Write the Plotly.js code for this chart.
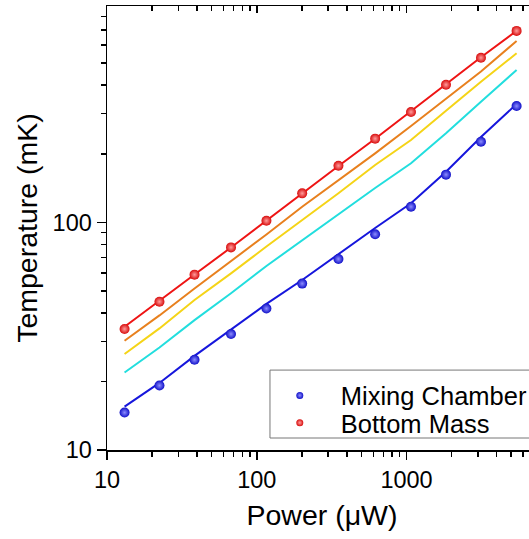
<!DOCTYPE html>
<html>
<head>
<meta charset="utf-8">
<script src="https://cdn.plot.ly/plotly-3.0.1.min.js"></script>
<style>html,body{margin:0;padding:0;overflow:hidden;background:#fff;}</style>
</head>
<body>
<div id="chart" style="width:545px;height:539px;"></div>
<script>
// Power (µW)
const power = [13.1, 22.4, 38.4, 67.3, 116, 201, 351, 617, 1071, 1834, 3140, 5430];
// measured points (mK)
const mixingChamber = [14.6, 19.2, 24.9, 32.3, 41.8, 53.8, 69.0, 88.6, 117.1, 161.9, 226, 324];
const bottomMass = [34.0, 44.8, 58.9, 77.6, 101.6, 134.0, 177.2, 233, 305, 402, 528, 693];
// model curves (mK)
const redCurve = [34.8, 45.1, 59.0, 77.5, 101.8, 134.5, 176.7, 232.9, 308.2, 403.7, 530.4, 694.1];
const orangeCurve = [30.2, 39.0, 51.2, 67.3, 88.4, 117.1, 152.6, 200.9, 264.8, 350.5, 459.5, 625.5];
const yellowCurve = [26.4, 34.2, 45.6, 59.7, 78.3, 102.3, 134.1, 178.5, 229.8, 309.1, 414.5, 552.3];
const cyanCurve = [21.9, 28.2, 37.2, 48.8, 64.3, 83.2, 108.8, 141.5, 181.6, 246.0, 338.5, 466.5];
const blueCurve = [15.5, 19.7, 25.9, 33.7, 43.8, 55.8, 72.6, 94.4, 121.2, 166.8, 236.9, 330.7];
// ticks
const xMajor = [10, 100, 1000];
const xMajorLabels = ['10', '100', '1000'];
const xMinor = [20,30,40,50,60,70,80,90,200,300,400,500,600,700,800,900,2000,3000,4000,5000,6000,7000];
const yMajor = [10, 100];
const yMajorLabels = ['10', '100'];
const yMinor = [20,30,40,50,60,70,80,90,200,300,400,500,600,700,800];
const seriesNames = ['Mixing Chamber', 'Bottom Mass'];

const FONT = 'Liberation Sans, Arial, sans-serif';

function curve(y, color) {
  return {x: power, y: y, mode: 'lines', type: 'scatter', showlegend: false,
          line: {color: color, width: 2}, hoverinfo: 'skip'};
}
const blueMarker = {color: '#1010c8', size: 10, gradient: {type: 'radial', color: '#8c8cff'}};
const redMarker = {color: '#d80c0c', size: 10, gradient: {type: 'radial', color: '#ff9c9c'}};
const traces = [
  curve(cyanCurve, '#22dede'),
  curve(yellowCurve, '#f5d417'),
  curve(orangeCurve, '#e8801e'),
  curve(blueCurve, '#1616dc'),
  curve(redCurve, '#ee1414'),
  {x: power, y: mixingChamber, mode: 'markers', type: 'scatter', name: seriesNames[0],
   showlegend: false, marker: blueMarker},
  {x: power, y: bottomMass, mode: 'markers', type: 'scatter', name: seriesNames[1],
   showlegend: false, marker: redMarker},
  // legend entries (no data, smaller legend symbols)
  {x: [null], y: [null], mode: 'markers', type: 'scatter', name: seriesNames[0], legend: 'legend',
   marker: {color: '#1010c8', size: 7, gradient: {type: 'radial', color: '#8c8cff'}}},
  {x: [null], y: [null], mode: 'markers', type: 'scatter', name: seriesNames[1], legend: 'legend2',
   marker: {color: '#d80c0c', size: 7, gradient: {type: 'radial', color: '#ff9c9c'}}},
  {x: [power[0]], y: [bottomMass[0]], xaxis: 'x2', mode: 'markers', type: 'scatter',
   showlegend: false, marker: {opacity: 0}, hoverinfo: 'skip'}
];

const legendCommon = {
  xanchor: 'left', yanchor: 'middle', bgcolor: 'rgba(0,0,0,0)', borderwidth: 0,
  font: {size: 25.5, family: FONT, color: '#000'}, itemwidth: 72, itemsizing: 'trace'
};

const layout = {
  width: 545, height: 539,
  margin: {l: 107, r: 8, t: 6, b: 89},
  paper_bgcolor: '#fff', plot_bgcolor: '#fff',
  font: {family: FONT, color: '#000'},
  showlegend: true,
  xaxis: {
    type: 'log', range: [1, 3.871], showgrid: false, zeroline: false,
    showline: true, linecolor: '#000', linewidth: 1.5,
    ticks: 'outside', ticklen: 8, tickwidth: 1.5, tickcolor: '#000',
    tickmode: 'array', tickvals: xMajor, ticktext: xMajorLabels,
    tickfont: {size: 23.5, family: FONT},
    minor: {tickmode: 'array', tickvals: xMinor, ticks: 'outside', ticklen: 5, tickwidth: 1.5, tickcolor: '#000'},
    title: {text: 'Power (μW)', font: {size: 28.5, family: FONT}, standoff: 13}
  },
  xaxis2: {
    type: 'log', range: [1, 3.871], overlaying: 'x', side: 'top', showgrid: false, zeroline: false,
    showline: true, linecolor: '#000', linewidth: 1.5,
    ticks: 'inside', ticklen: 7, tickwidth: 1.5, tickcolor: '#000',
    tickmode: 'array', tickvals: xMajor, showticklabels: false,
    minor: {tickmode: 'array', tickvals: xMinor, ticks: 'inside', ticklen: 5, tickwidth: 1.5, tickcolor: '#000'}
  },
  yaxis: {
    type: 'log', range: [1, 2.95], showgrid: false, zeroline: false,
    showline: true, linecolor: '#000', linewidth: 1.5, mirror: true,
    ticks: 'outside', ticklen: 9, tickwidth: 1.5, tickcolor: '#000',
    tickmode: 'array', tickvals: yMajor, ticktext: yMajorLabels,
    tickfont: {size: 23.5, family: FONT},
    minor: {tickmode: 'array', tickvals: yMinor, ticks: 'outside', ticklen: 5, tickwidth: 1.5, tickcolor: '#000'},
    title: {text: 'Temperature (mK)', font: {size: 28.5, family: FONT}, standoff: 6}
  },
  shapes: [{
    type: 'rect', xref: 'paper', yref: 'paper', layer: 'above',
    x0: 0.379, x1: 1.2, y0: 0.027, y1: 0.18,
    line: {color: '#777', width: 1}, fillcolor: '#fff'
  }],
  legend: Object.assign({x: 0.353, y: 0.122}, legendCommon),
  legend2: Object.assign({x: 0.353, y: 0.0605}, legendCommon)
};

Plotly.newPlot('chart', traces, layout, {displayModeBar: false, staticPlot: true});
</script>
</body>
</html>
